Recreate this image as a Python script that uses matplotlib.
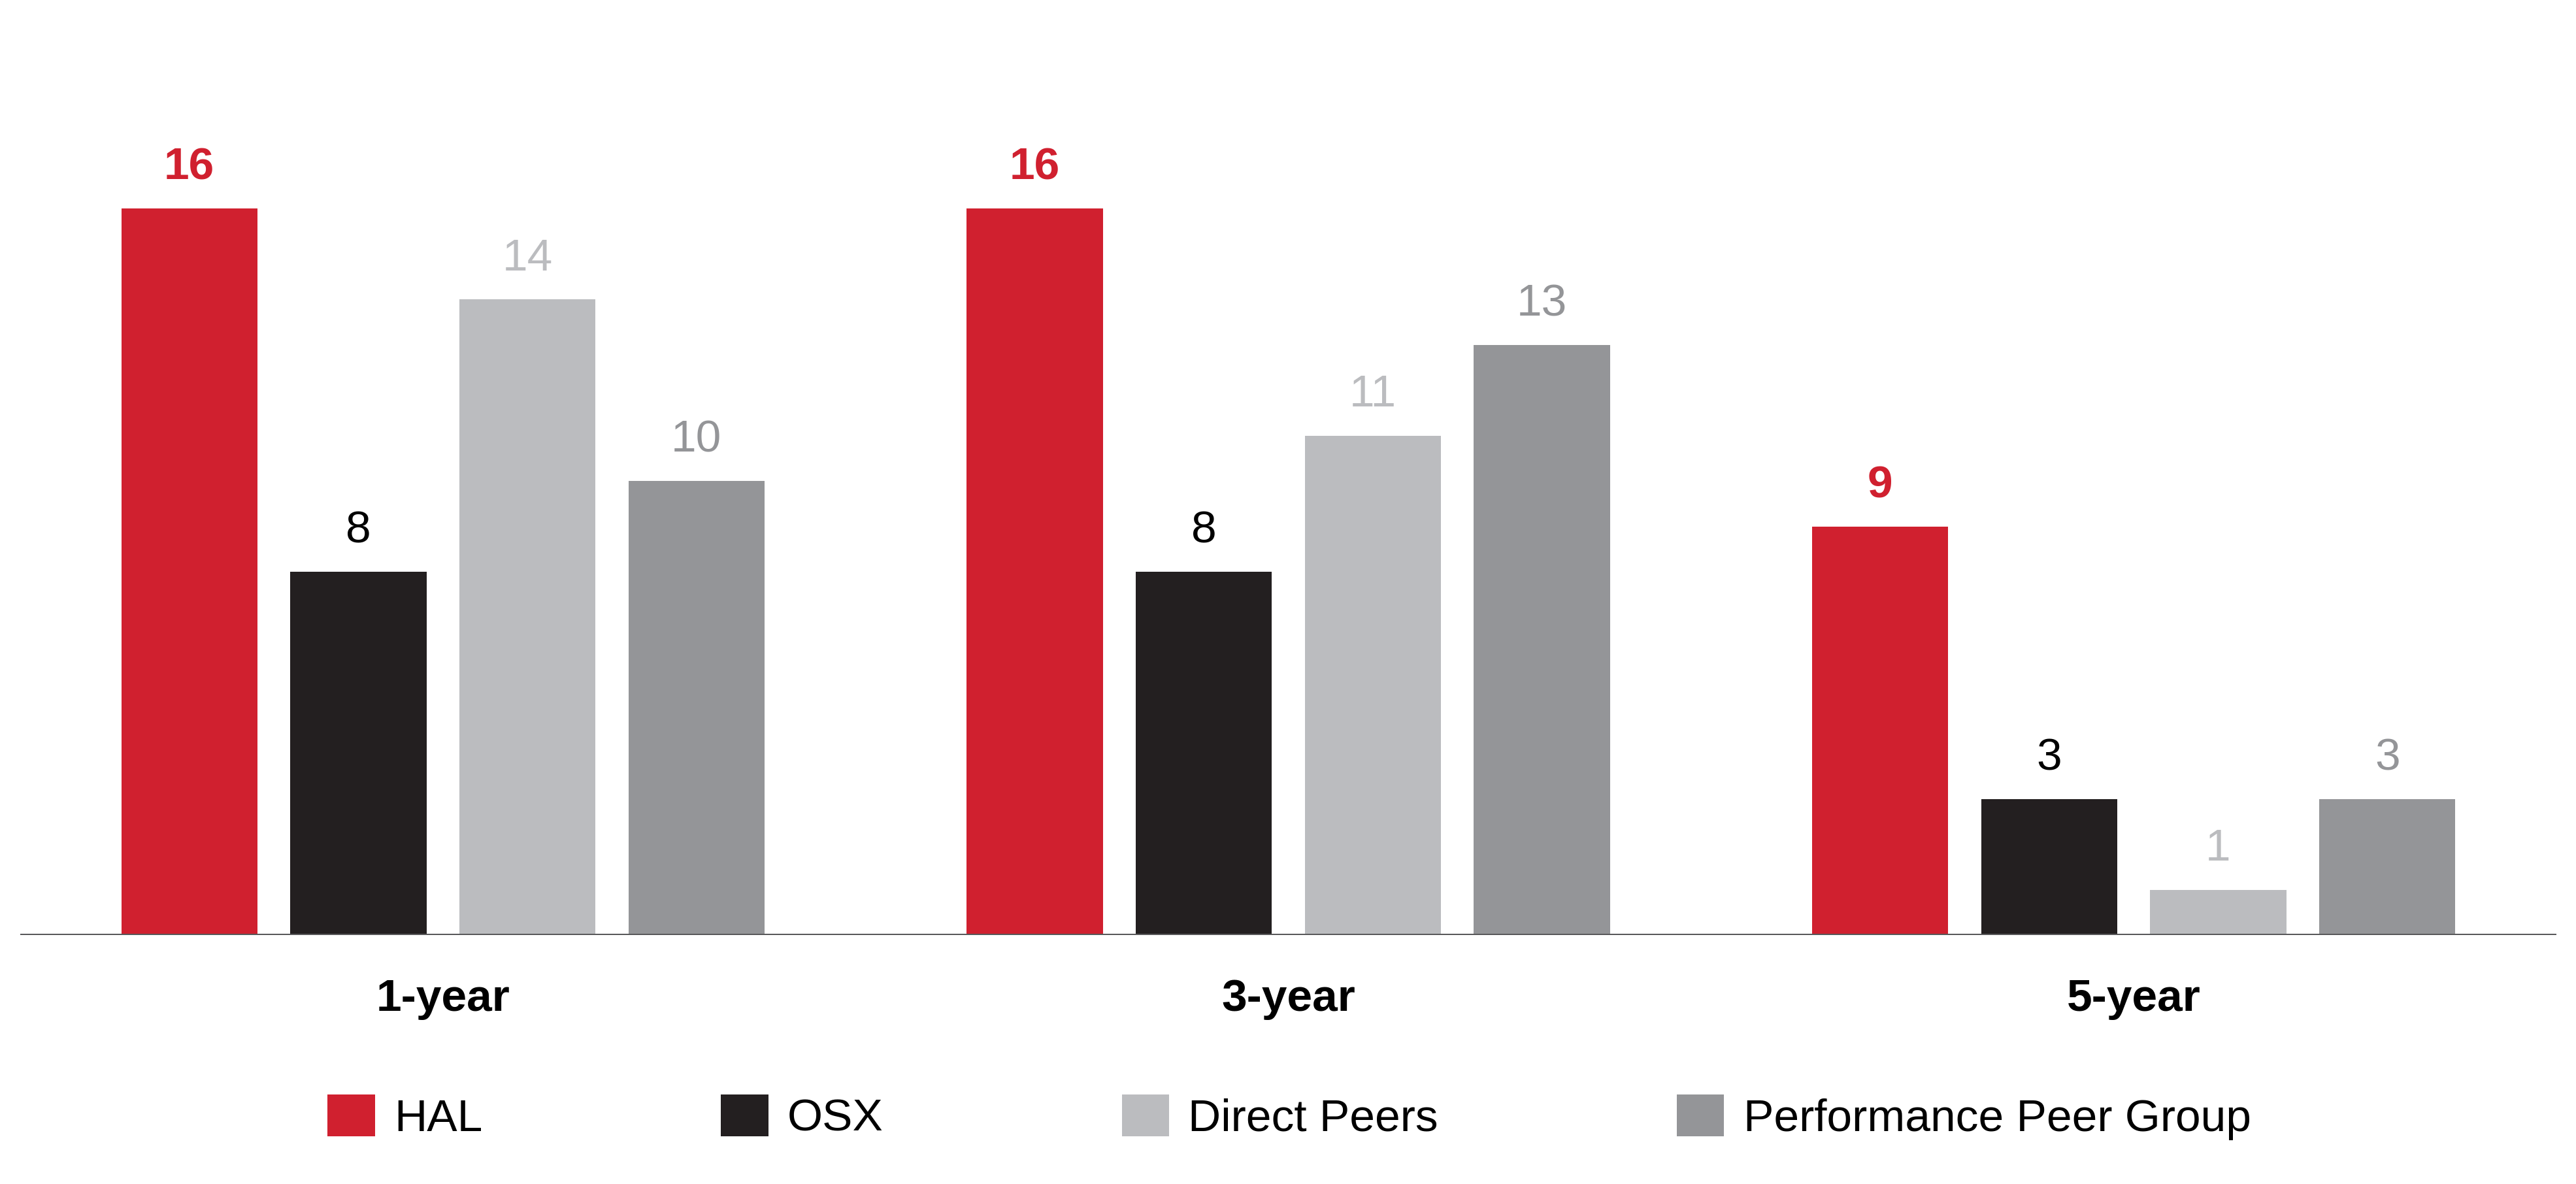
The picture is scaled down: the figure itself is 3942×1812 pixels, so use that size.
import numpy as np
import matplotlib.pyplot as plt
from matplotlib.patches import Patch

plt.rcParams['font.family'] = ['Liberation Sans', 'DejaVu Sans']

periods = ['1-year', '3-year', '5-year']
series = ['HAL', 'OSX', 'Direct Peers', 'Performance Peer Group']
hal = [16, 16, 9]
osx = [8, 8, 3]
direct = [14, 11, 1]
perf = [10, 13, 3]

colors = ['#d0202f', '#231f20', '#bbbcbf', '#949598']
label_colors = ['#d0202f', '#000000', '#bbbcbf', '#949598']

W, H = 3942, 1812
fig = plt.figure(figsize=(W / 100, H / 100), dpi=100)
ax = fig.add_axes([31 / W, (H - 1431) / H, (3912 - 31) / W, 1431 / H])

centers = np.arange(len(periods)) * 5.0
offsets = [-1.5, -0.5, 0.5, 1.5]
for vals, off, c, lc in zip([hal, osx, direct, perf], offsets, colors, label_colors):
    xs = centers + off
    ax.bar(xs, vals, width=0.805, color=c, zorder=2)
    bold = lc == '#d0202f'
    for x, v in zip(xs, vals):
        ax.annotate(str(v), (x, v), xytext=(0, 31.7), textcoords='offset points',
                    ha='center', va='baseline', fontsize=50, color=lc,
                    fontweight='bold' if bold else 'normal')

for x, p in zip(centers, periods):
    ax.annotate(p, (x, 0), xycoords=('data', 'data'), xytext=(0, -83.5),
                textcoords='offset points', ha='center', va='baseline',
                fontsize=50, fontweight='bold', color='black')

ax.axhline(0, color='#58585a', lw=3.6, zorder=3)
ax.set_xlim(-2.5, 12.5)
ax.set_ylim(0, 1431 / 69.5)
ax.axis('off')

handles = [Patch(facecolor=c, edgecolor='none') for c in colors]
fig.legend(handles, series, loc='center', bbox_to_anchor=(0.5005, (H - 1710) / H),
           ncol=4, frameon=False, fontsize=50, handlelength=1.04, handleheight=1.04,
           handletextpad=0.42, columnspacing=5.26, borderpad=0, borderaxespad=0)

fig.savefig('out.png', dpi=100)
